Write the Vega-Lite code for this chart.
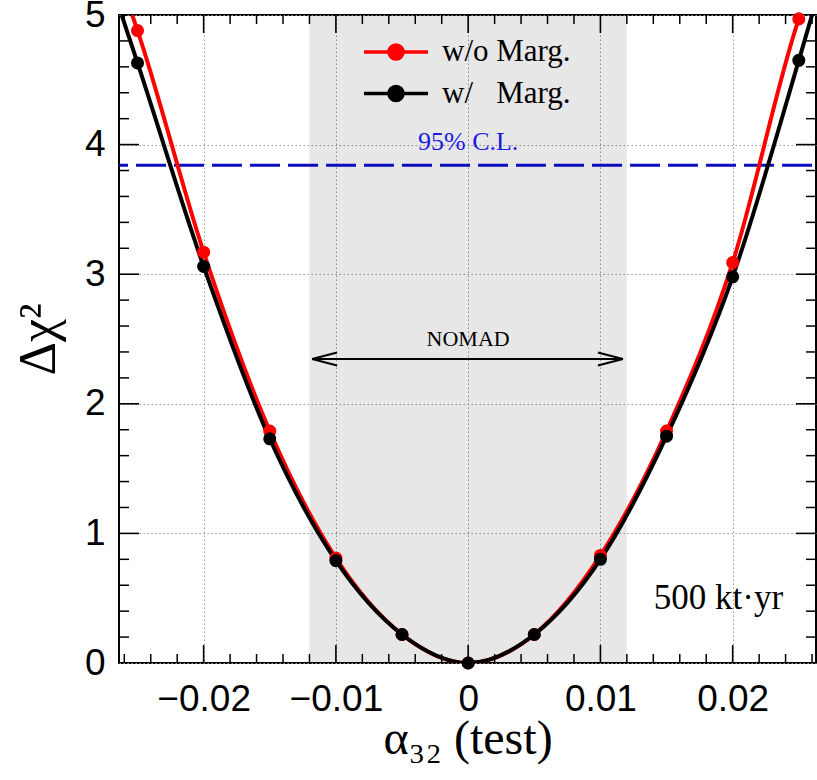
{
  "$schema": "https://vega.github.io/schema/vega-lite/v6.json",
  "width": 697,
  "height": 648,
  "autosize": {"type": "none"},
  "padding": {"left": 119, "top": 15, "right": 1, "bottom": 117},
  "background": "white",
  "config": {
    "view": {"stroke": "black", "strokeWidth": 2},
    "axis": {
      "domain": false,
      "labelFont": "Liberation Sans",
      "labelFontSize": 37,
      "labelColor": "black",
      "titleFont": "Liberation Serif",
      "titleColor": "black",
      "titleFontWeight": "normal",
      "labelFlush": false,
      "labelOverlap": false,
      "labelBound": false
    },
    "text": {"font": "Liberation Serif"}
  },
  "resolve": {"axis": {"x": "independent", "y": "independent"}},
  "datasets": {
    "curves": [
      {"alpha": -0.0254, "dchi2": 5.0, "series": "w/o Marg."},
      {"alpha": -0.025, "dchi2": 4.88, "series": "w/o Marg."},
      {"alpha": -0.02, "dchi2": 3.17, "series": "w/o Marg."},
      {"alpha": -0.015, "dchi2": 1.79, "series": "w/o Marg."},
      {"alpha": -0.01, "dchi2": 0.81, "series": "w/o Marg."},
      {"alpha": -0.005, "dchi2": 0.22, "series": "w/o Marg."},
      {"alpha": 0.0, "dchi2": 0.0, "series": "w/o Marg."},
      {"alpha": 0.005, "dchi2": 0.22, "series": "w/o Marg."},
      {"alpha": 0.01, "dchi2": 0.83, "series": "w/o Marg."},
      {"alpha": 0.015, "dchi2": 1.79, "series": "w/o Marg."},
      {"alpha": 0.02, "dchi2": 3.09, "series": "w/o Marg."},
      {"alpha": 0.025, "dchi2": 4.97, "series": "w/o Marg."},
      {"alpha": 0.0251, "dchi2": 5.0, "series": "w/o Marg."},
      {"alpha": -0.0262, "dchi2": 5.0, "series": "w/ Marg."},
      {"alpha": -0.025, "dchi2": 4.63, "series": "w/ Marg."},
      {"alpha": -0.02, "dchi2": 3.06, "series": "w/ Marg."},
      {"alpha": -0.015, "dchi2": 1.73, "series": "w/ Marg."},
      {"alpha": -0.01, "dchi2": 0.79, "series": "w/ Marg."},
      {"alpha": -0.005, "dchi2": 0.22, "series": "w/ Marg."},
      {"alpha": 0.0, "dchi2": 0.0, "series": "w/ Marg."},
      {"alpha": 0.005, "dchi2": 0.22, "series": "w/ Marg."},
      {"alpha": 0.01, "dchi2": 0.8, "series": "w/ Marg."},
      {"alpha": 0.015, "dchi2": 1.75, "series": "w/ Marg."},
      {"alpha": 0.02, "dchi2": 2.98, "series": "w/ Marg."},
      {"alpha": 0.025, "dchi2": 4.65, "series": "w/ Marg."},
      {"alpha": 0.026, "dchi2": 5.0, "series": "w/ Marg."}
    ],
    "markers": [
      {"alpha": -0.025, "dchi2": 4.88, "series": "w/o Marg."},
      {"alpha": -0.02, "dchi2": 3.17, "series": "w/o Marg."},
      {"alpha": -0.015, "dchi2": 1.79, "series": "w/o Marg."},
      {"alpha": -0.01, "dchi2": 0.81, "series": "w/o Marg."},
      {"alpha": -0.005, "dchi2": 0.22, "series": "w/o Marg."},
      {"alpha": 0.0, "dchi2": 0.0, "series": "w/o Marg."},
      {"alpha": 0.005, "dchi2": 0.22, "series": "w/o Marg."},
      {"alpha": 0.01, "dchi2": 0.83, "series": "w/o Marg."},
      {"alpha": 0.015, "dchi2": 1.79, "series": "w/o Marg."},
      {"alpha": 0.02, "dchi2": 3.09, "series": "w/o Marg."},
      {"alpha": 0.025, "dchi2": 4.97, "series": "w/o Marg."},
      {"alpha": -0.025, "dchi2": 4.63, "series": "w/ Marg."},
      {"alpha": -0.02, "dchi2": 3.06, "series": "w/ Marg."},
      {"alpha": -0.015, "dchi2": 1.73, "series": "w/ Marg."},
      {"alpha": -0.01, "dchi2": 0.79, "series": "w/ Marg."},
      {"alpha": -0.005, "dchi2": 0.22, "series": "w/ Marg."},
      {"alpha": 0.0, "dchi2": 0.0, "series": "w/ Marg."},
      {"alpha": 0.005, "dchi2": 0.22, "series": "w/ Marg."},
      {"alpha": 0.01, "dchi2": 0.8, "series": "w/ Marg."},
      {"alpha": 0.015, "dchi2": 1.75, "series": "w/ Marg."},
      {"alpha": 0.02, "dchi2": 2.98, "series": "w/ Marg."},
      {"alpha": 0.025, "dchi2": 4.65, "series": "w/ Marg."}
    ],
    "band": [{"lo": -0.012, "hi": 0.012}],
    "xMajor": [{"t": -0.02}, {"t": -0.01}, {"t": 0}, {"t": 0.01}, {"t": 0.02}],
    "xMinor": [{"t": -0.026}, {"t": -0.024}, {"t": -0.022}, {"t": -0.018}, {"t": -0.016}, {"t": -0.014}, {"t": -0.012}, {"t": -0.008}, {"t": -0.006}, {"t": -0.004}, {"t": -0.002}, {"t": 0.002}, {"t": 0.004}, {"t": 0.006}, {"t": 0.008}, {"t": 0.012}, {"t": 0.014}, {"t": 0.016}, {"t": 0.018}, {"t": 0.022}, {"t": 0.024}, {"t": 0.026}],
    "yMajor": [{"t": 1}, {"t": 2}, {"t": 3}, {"t": 4}],
    "yMinor": [{"t": 0.2}, {"t": 0.4}, {"t": 0.6}, {"t": 0.8}, {"t": 1.2}, {"t": 1.4}, {"t": 1.6}, {"t": 1.8}, {"t": 2.2}, {"t": 2.4}, {"t": 2.6}, {"t": 2.8}, {"t": 3.2}, {"t": 3.4}, {"t": 3.6}, {"t": 3.8}, {"t": 4.2}, {"t": 4.4}, {"t": 4.6}, {"t": 4.8}]
  },
  "layer": [
    {
      "data": {"name": "band"},
      "mark": {"type": "rect", "fill": "black", "opacity": 0.095},
      "encoding": {
        "x": {"field": "lo", "type": "quantitative", "axis": null, "scale": {"domain": [-0.0264, 0.0263], "nice": false, "zero": false}},
        "x2": {"field": "hi"}
      }
    },
    {
      "data": {"values": [{}]},
      "mark": {"type": "rule", "color": "#0c0cc0", "strokeWidth": 3, "strokeDash": [30, 8], "strokeDashOffset": 34},
      "encoding": {
        "y": {"datum": 3.84, "type": "quantitative", "axis": null, "scale": {"domain": [0, 5], "nice": false, "zero": false}}
      }
    },
    {
      "data": {"name": "curves"},
      "mark": {"type": "line", "interpolate": "monotone", "strokeWidth": 4, "clip": true},
      "encoding": {
        "x": {
          "field": "alpha", "type": "quantitative",
          "scale": {"domain": [-0.0264, 0.0263], "nice": false, "zero": false},
          "axis": {
            "orient": "bottom",
            "values": [-0.02, -0.01, 0, 0.01, 0.02],
            "ticks": false,
            "labelExpr": "round(datum.value*100) == 0 ? '0' : format(round(datum.value*100)/100, '.2f')",
            "labelPadding": 18,
            "grid": true,
            "gridDash": [1.5, 2.5],
            "gridColor": "#999999",
            "gridWidth": 1,
            "title": "α₃₂ (test)",
            "titleFontSize": 48,
            "titleBaseline": "alphabetic",
            "titleY": 90
          }
        },
        "y": {
          "field": "dchi2", "type": "quantitative",
          "scale": {"domain": [0, 5], "nice": false, "zero": false},
          "axis": {
            "orient": "left",
            "values": [0, 1, 2, 3, 4, 5],
            "ticks": false,
            "labelExpr": "format(round(datum.value), 'd')",
            "labelPadding": 14,
            "grid": true,
            "gridDash": [1.5, 2.5],
            "gridColor": "#999999",
            "gridWidth": 1,
            "title": "Δχ²",
            "titleFontSize": 52,
            "titleBaseline": "alphabetic",
            "titleAlign": "center",
            "titleAngle": 270,
            "titleX": -65,
            "titleY": 324
          }
        },
        "color": {
          "field": "series", "type": "nominal",
          "scale": {"domain": ["w/o Marg.", "w/ Marg."], "range": ["#ff0000", "#000000"]},
          "legend": {
            "orient": "none",
            "legendX": 259,
            "legendY": 19,
            "padding": 0,
            "title": null,
            "symbolType": "M-2,0L2,0M-0.44,0A0.44,0.44,0,1,1,0.44,0A0.44,0.44,0,1,1,-0.44,0Z",
            "symbolSize": 1024,
            "symbolStrokeWidth": 3.5,
            "labelFont": "Liberation Serif",
            "labelFontSize": 31,
            "labelColor": "black",
            "labelOffset": 28,
            "rowPadding": 8.5,
            "labelExpr": "datum.value == 'w/ Marg.' ? 'w/\u00a0\u00a0\u00a0Marg.' : datum.value",
            "encode": {"symbols": {"update": {"fill": {"scale": "color", "field": "value"}, "stroke": {"scale": "color", "field": "value"}, "opacity": {"value": 1}}}}
          }
        }
      }
    },
    {
      "data": {"name": "markers"},
      "mark": {"type": "point", "filled": true, "size": 170, "opacity": 1},
      "encoding": {
        "x": {"field": "alpha", "type": "quantitative", "axis": null},
        "y": {"field": "dchi2", "type": "quantitative", "axis": null},
        "color": {"field": "series", "type": "nominal", "legend": null}
      }
    },
    {
      "data": {"name": "xMajor"},
      "mark": {"type": "rule", "color": "black", "strokeWidth": 1.6},
      "encoding": {
        "x": {"field": "t", "type": "quantitative", "axis": null},
        "y": {"datum": 0, "type": "quantitative", "axis": null},
        "y2": {"datum": 0.1389}
      }
    },
    {
      "data": {"name": "xMajor"},
      "mark": {"type": "rule", "color": "black", "strokeWidth": 1.6},
      "encoding": {
        "x": {"field": "t", "type": "quantitative", "axis": null},
        "y": {"datum": 5, "type": "quantitative", "axis": null},
        "y2": {"datum": 4.8611}
      }
    },
    {
      "data": {"name": "xMinor"},
      "mark": {"type": "rule", "color": "black", "strokeWidth": 1.5},
      "encoding": {
        "x": {"field": "t", "type": "quantitative", "axis": null},
        "y": {"datum": 0, "type": "quantitative", "axis": null},
        "y2": {"datum": 0.0694}
      }
    },
    {
      "data": {"name": "xMinor"},
      "mark": {"type": "rule", "color": "black", "strokeWidth": 1.5},
      "encoding": {
        "x": {"field": "t", "type": "quantitative", "axis": null},
        "y": {"datum": 5, "type": "quantitative", "axis": null},
        "y2": {"datum": 4.9306}
      }
    },
    {
      "data": {"name": "yMajor"},
      "mark": {"type": "rule", "color": "black", "strokeWidth": 1.6},
      "encoding": {
        "y": {"field": "t", "type": "quantitative", "axis": null},
        "x": {"datum": -0.0264, "type": "quantitative", "axis": null},
        "x2": {"datum": -0.024888}
      }
    },
    {
      "data": {"name": "yMajor"},
      "mark": {"type": "rule", "color": "black", "strokeWidth": 1.6},
      "encoding": {
        "y": {"field": "t", "type": "quantitative", "axis": null},
        "x": {"datum": 0.0263, "type": "quantitative", "axis": null},
        "x2": {"datum": 0.024788}
      }
    },
    {
      "data": {"name": "yMinor"},
      "mark": {"type": "rule", "color": "black", "strokeWidth": 1.5},
      "encoding": {
        "y": {"field": "t", "type": "quantitative", "axis": null},
        "x": {"datum": -0.0264, "type": "quantitative", "axis": null},
        "x2": {"datum": -0.025644}
      }
    },
    {
      "data": {"name": "yMinor"},
      "mark": {"type": "rule", "color": "black", "strokeWidth": 1.5},
      "encoding": {
        "y": {"field": "t", "type": "quantitative", "axis": null},
        "x": {"datum": 0.0263, "type": "quantitative", "axis": null},
        "x2": {"datum": 0.025544}
      }
    },
    {
      "data": {"values": [{}]},
      "mark": {"type": "rule", "color": "black", "strokeWidth": 2},
      "encoding": {
        "x": {"datum": -0.0118, "type": "quantitative", "axis": null},
        "x2": {"datum": 0.0117},
        "y": {"datum": 2.346, "type": "quantitative", "axis": null}
      }
    },
    {
      "data": {"values": [{}]},
      "mark": {"type": "point", "shape": "M0,0L2,-0.52M0,0L2,0.52", "filled": false, "stroke": "black", "strokeWidth": 2, "size": 625, "opacity": 1},
      "encoding": {
        "x": {"datum": -0.0118, "type": "quantitative", "axis": null},
        "y": {"datum": 2.346, "type": "quantitative", "axis": null}
      }
    },
    {
      "data": {"values": [{}]},
      "mark": {"type": "point", "shape": "M0,0L-2,-0.52M0,0L-2,0.52", "filled": false, "stroke": "black", "strokeWidth": 2, "size": 625, "opacity": 1},
      "encoding": {
        "x": {"datum": 0.0117, "type": "quantitative", "axis": null},
        "y": {"datum": 2.346, "type": "quantitative", "axis": null}
      }
    },
    {
      "data": {"values": [{}]},
      "mark": {"type": "text", "text": "NOMAD", "fontSize": 22, "align": "center", "baseline": "alphabetic", "color": "black"},
      "encoding": {
        "x": {"datum": 0, "type": "quantitative", "axis": null},
        "y": {"datum": 2.443, "type": "quantitative", "axis": null}
      }
    },
    {
      "data": {"values": [{}]},
      "mark": {"type": "text", "text": "95% C.L.", "fontSize": 26, "align": "center", "baseline": "alphabetic", "color": "#1a1ae6"},
      "encoding": {
        "x": {"datum": 0, "type": "quantitative", "axis": null},
        "y": {"datum": 3.955, "type": "quantitative", "axis": null}
      }
    },
    {
      "data": {"values": [{}]},
      "mark": {"type": "text", "text": "500 kt·yr", "fontSize": 35, "align": "left", "baseline": "alphabetic", "color": "black"},
      "encoding": {
        "x": {"datum": 0.01404, "type": "quantitative", "axis": null},
        "y": {"datum": 0.419, "type": "quantitative", "axis": null}
      }
    }
  ]
}
